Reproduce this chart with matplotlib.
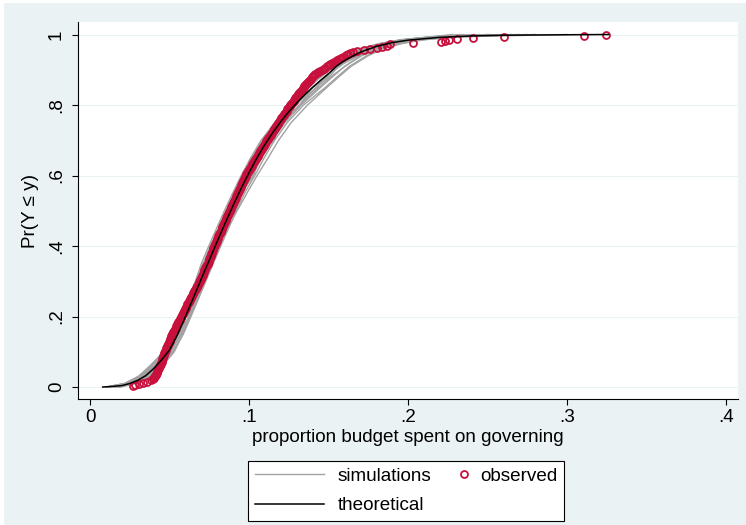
import numpy as np
import matplotlib
matplotlib.use("Agg")
from matplotlib import pyplot as plt
from matplotlib.patches import Rectangle
from matplotlib.legend_handler import HandlerLine2D

plt.rcParams['font.family'] = ['Liberation Sans', 'DejaVu Sans']

# theoretical cdf
theo_x = [0.008, 0.015, 0.020, 0.025, 0.030, 0.035, 0.040, 0.045, 0.050, 0.055, 0.060, 0.065,
          0.070, 0.075, 0.080, 0.085, 0.090, 0.095, 0.100, 0.105, 0.110, 0.115, 0.120, 0.125,
          0.130, 0.135, 0.140, 0.145, 0.150, 0.155, 0.160, 0.170, 0.180, 0.190, 0.200, 0.210,
          0.220, 0.240, 0.260, 0.290, 0.326]
theo_y = [0.000, 0.002, 0.004, 0.010, 0.019, 0.032, 0.052, 0.077, 0.105, 0.148, 0.200, 0.253,
          0.307, 0.360, 0.413, 0.465, 0.515, 0.563, 0.608, 0.650, 0.688, 0.722, 0.753, 0.781,
          0.806, 0.829, 0.850, 0.870, 0.889, 0.910, 0.926, 0.950, 0.966, 0.977, 0.984, 0.988,
          0.992, 0.996, 0.998, 0.999, 1.000]

# simulated cdfs: x at common probability levels
sim_y = [0.0, 0.01, 0.03, 0.06, 0.10, 0.15, 0.20, 0.25, 0.30, 0.35, 0.40, 0.45, 0.50, 0.55,
         0.60, 0.65, 0.70, 0.75, 0.80, 0.85, 0.88, 0.91, 0.94, 0.96, 0.975, 0.985, 0.993, 1.0]
sim_1 = [0.010, 0.022, 0.0305, 0.0376, 0.0465, 0.0527, 0.0575, 0.0622, 0.0668, 0.0715, 0.0762, 0.0811, 0.0860, 0.0912,
         0.0956, 0.1015, 0.1081, 0.1160, 0.1253, 0.134, 0.1415, 0.1493, 0.159, 0.1695, 0.1825, 0.195, 0.213, 0.235]
sim_2 = [0.018, 0.0275, 0.0360, 0.0451, 0.0525, 0.0587, 0.0635, 0.0682, 0.0728, 0.0775, 0.0822, 0.0871, 0.0920, 0.0972,
         0.1036, 0.1095, 0.1161, 0.1240, 0.1343, 0.148, 0.1555, 0.1633, 0.174, 0.1835, 0.1965, 0.209, 0.230, 0.280]
sim_3 = [0.010, 0.022, 0.0305, 0.0386, 0.046, 0.0532, 0.058, 0.0627, 0.0683, 0.073, 0.0787, 0.0836, 0.0895, 0.0947,
         0.1011, 0.107, 0.1146, 0.1225, 0.1328, 0.145, 0.1525, 0.1603, 0.170, 0.1805, 0.1935, 0.205, 0.224, 0.265]
sim_4 = [0.019, 0.029, 0.0375, 0.0456, 0.053, 0.0582, 0.063, 0.0667, 0.0713, 0.075, 0.0797, 0.0836, 0.0885, 0.0927,
         0.0981, 0.103, 0.1096, 0.1165, 0.1258, 0.136, 0.1435, 0.1503, 0.161, 0.1715, 0.1845, 0.196, 0.214, 0.250]
sim_5 = [0.016, 0.025, 0.0335, 0.0436, 0.049, 0.0572, 0.060, 0.0667, 0.0683, 0.075, 0.0777, 0.0856, 0.0885, 0.0957,
         0.0981, 0.107, 0.1106, 0.1215, 0.1278, 0.143, 0.1475, 0.1573, 0.165, 0.1785, 0.1885, 0.203, 0.219, 0.270]
sim_6 = [0.013, 0.023, 0.0345, 0.0406, 0.051, 0.0542, 0.063, 0.0647, 0.0713, 0.074, 0.0817, 0.0846, 0.0915, 0.0947,
         0.1031, 0.106, 0.1156, 0.1205, 0.1318, 0.140, 0.1495, 0.1533, 0.168, 0.1745, 0.1915, 0.200, 0.224, 0.300]
sim_7 = [0.015, 0.025, 0.0345, 0.0426, 0.050, 0.0572, 0.062, 0.0667, 0.0723, 0.077, 0.0817, 0.0866, 0.0925, 0.0987,
         0.1051, 0.112, 0.1186, 0.1265, 0.1368, 0.149, 0.1565, 0.1643, 0.175, 0.1845, 0.1965, 0.210, 0.230, 0.275]
sim_8 = [0.012, 0.022, 0.0315, 0.0406, 0.047, 0.0532, 0.058, 0.0617, 0.0663, 0.070, 0.0747, 0.0796, 0.0845, 0.0897,
         0.0951, 0.101, 0.1076, 0.1165, 0.1248, 0.136, 0.1435, 0.1503, 0.161, 0.1715, 0.1835, 0.196, 0.213, 0.228]
sim_9 = [0.017, 0.026, 0.0355, 0.0436, 0.052, 0.0582, 0.063, 0.0677, 0.0723, 0.076, 0.0817, 0.0856, 0.0905, 0.0957,
         0.1021, 0.107, 0.1146, 0.1215, 0.1318, 0.142, 0.1505, 0.1563, 0.169, 0.1785, 0.1905, 0.204, 0.223, 0.260]
sim_10 = [0.011, 0.023, 0.0325, 0.0406, 0.048, 0.0542, 0.059, 0.0637, 0.0683, 0.072, 0.0777, 0.0816, 0.0875, 0.0927,
          0.0981, 0.103, 0.1106, 0.1175, 0.1268, 0.138, 0.1445, 0.1523, 0.163, 0.1745, 0.1875, 0.199, 0.217, 0.245]
sim_11 = [0.011, 0.022, 0.0305, 0.0386, 0.046, 0.0522, 0.057, 0.0617, 0.0663, 0.071, 0.0757, 0.0806, 0.0855, 0.0907,
          0.0961, 0.103, 0.1096, 0.1175, 0.1268, 0.136, 0.1445, 0.1523, 0.163, 0.1735, 0.1855, 0.197, 0.215, 0.232]
sim_12 = [0.015, 0.023, 0.0315, 0.0396, 0.047, 0.0532, 0.059, 0.0627, 0.0683, 0.073, 0.0767, 0.0826, 0.0875, 0.0917,
          0.0971, 0.103, 0.1096, 0.1165, 0.1258, 0.137, 0.1455, 0.1533, 0.164, 0.1745, 0.1875, 0.200, 0.218, 0.242]
sim_13 = [0.013, 0.024, 0.0335, 0.0416, 0.049, 0.0562, 0.060, 0.0647, 0.0703, 0.074, 0.0797, 0.0836, 0.0895, 0.0937,
          0.1001, 0.105, 0.1126, 0.1195, 0.1298, 0.140, 0.1485, 0.1553, 0.167, 0.1765, 0.1895, 0.201, 0.222, 0.252]
sim_14 = [0.018, 0.027, 0.0355, 0.0436, 0.051, 0.0572, 0.062, 0.0657, 0.0713, 0.076, 0.0807, 0.0856, 0.0905, 0.0957,
          0.1021, 0.108, 0.1146, 0.1225, 0.1318, 0.144, 0.1515, 0.1603, 0.171, 0.1815, 0.1935, 0.206, 0.226, 0.262]
sims = [sim_1, sim_2, sim_3, sim_4, sim_5, sim_6, sim_7, sim_8, sim_9, sim_10, sim_11, sim_12, sim_13, sim_14]

# observed values (sorted), n = 320
observed = [
    0.0272, 0.0286, 0.0308, 0.0336, 0.0358, 0.0383, 0.0394, 0.0401, 0.0405, 0.0409, 0.0413, 0.0417, 0.0421, 0.0424, 0.0427, 0.0430,
    0.0433, 0.0436, 0.0439, 0.0442, 0.0445, 0.0448, 0.0450, 0.0453, 0.0455, 0.0457, 0.0459, 0.0461, 0.0463, 0.0465, 0.0467, 0.0469,
    0.0472, 0.0476, 0.0479, 0.0482, 0.0485, 0.0488, 0.0491, 0.0494, 0.0497, 0.0500, 0.0503, 0.0506, 0.0509, 0.0512, 0.0515, 0.0518,
    0.0521, 0.0525, 0.0528, 0.0532, 0.0535, 0.0539, 0.0542, 0.0546, 0.0549, 0.0553, 0.0556, 0.0560, 0.0564, 0.0567, 0.0571, 0.0575,
    0.0578, 0.0582, 0.0585, 0.0589, 0.0592, 0.0596, 0.0599, 0.0602, 0.0606, 0.0609, 0.0613, 0.0616, 0.0620, 0.0623, 0.0627, 0.0630,
    0.0634, 0.0638, 0.0641, 0.0645, 0.0649, 0.0653, 0.0656, 0.0660, 0.0664, 0.0668, 0.0672, 0.0675, 0.0679, 0.0683, 0.0687, 0.0690,
    0.0693, 0.0696, 0.0699, 0.0702, 0.0705, 0.0708, 0.0711, 0.0714, 0.0717, 0.0720, 0.0723, 0.0726, 0.0729, 0.0732, 0.0736, 0.0740,
    0.0743, 0.0746, 0.0748, 0.0751, 0.0753, 0.0756, 0.0758, 0.0761, 0.0763, 0.0766, 0.0768, 0.0771, 0.0773, 0.0776, 0.0778, 0.0781,
    0.0784, 0.0787, 0.0790, 0.0793, 0.0796, 0.0799, 0.0802, 0.0805, 0.0808, 0.0811, 0.0814, 0.0817, 0.0821, 0.0824, 0.0827, 0.0830,
    0.0833, 0.0836, 0.0839, 0.0842, 0.0845, 0.0848, 0.0851, 0.0854, 0.0857, 0.0860, 0.0863, 0.0866, 0.0869, 0.0873, 0.0876, 0.0880,
    0.0883, 0.0886, 0.0889, 0.0892, 0.0895, 0.0898, 0.0901, 0.0904, 0.0907, 0.0910, 0.0913, 0.0916, 0.0920, 0.0923, 0.0927, 0.0930,
    0.0933, 0.0936, 0.0939, 0.0942, 0.0945, 0.0948, 0.0951, 0.0954, 0.0957, 0.0960, 0.0963, 0.0966, 0.0970, 0.0973, 0.0977, 0.0980,
    0.0984, 0.0988, 0.0992, 0.0996, 0.1000, 0.1004, 0.1009, 0.1013, 0.1017, 0.1021, 0.1026, 0.1030, 0.1034, 0.1038, 0.1043, 0.1047,
    0.1051, 0.1055, 0.1059, 0.1063, 0.1068, 0.1072, 0.1076, 0.1080, 0.1084, 0.1088, 0.1093, 0.1097, 0.1101, 0.1105, 0.1109, 0.1113,
    0.1118, 0.1122, 0.1127, 0.1131, 0.1136, 0.1140, 0.1145, 0.1149, 0.1154, 0.1158, 0.1163, 0.1167, 0.1172, 0.1176, 0.1181, 0.1185,
    0.1190, 0.1194, 0.1199, 0.1203, 0.1208, 0.1213, 0.1217, 0.1222, 0.1227, 0.1231, 0.1236, 0.1241, 0.1245, 0.1250, 0.1255, 0.1260,
    0.1265, 0.1270, 0.1275, 0.1280, 0.1285, 0.1290, 0.1295, 0.1300, 0.1305, 0.1310, 0.1316, 0.1321, 0.1327, 0.1332, 0.1338, 0.1343,
    0.1348, 0.1353, 0.1358, 0.1363, 0.1369, 0.1375, 0.1381, 0.1388, 0.1395, 0.1403, 0.1410, 0.1418, 0.1426, 0.1435, 0.1445, 0.1460,
    0.1470, 0.1480, 0.1490, 0.1500, 0.1512, 0.1523, 0.1534, 0.1545, 0.1556, 0.1568, 0.1580, 0.1593, 0.1607, 0.1621, 0.1637, 0.1655,
    0.1680, 0.1720, 0.1760, 0.1805, 0.1835, 0.1866, 0.1887,
    0.2033, 0.2206, 0.2233, 0.2260, 0.2310, 0.2411, 0.2606, 0.3109, 0.3245]

x_ticks = [0, 0.1, 0.2, 0.3, 0.4]
x_labels = ['0', '.1', '.2', '.3', '.4']
y_ticks = [0, 0.2, 0.4, 0.6, 0.8, 1.0]
y_labels = ['0', '.2', '.4', '.6', '.8', '1']

bg = '#eaf2f3'
red = '#c8103c'
grey = '#a2a2a2'
fs = 13.6


class RightMarker(HandlerLine2D):
    # put the single legend marker at the right end of its key, close to the text
    def get_xdata(self, legend, xdescent, ydescent, width, height, fontsize):
        xdata, xm = super().get_xdata(legend, xdescent, ydescent, width, height, fontsize)
        end = width - xdescent
        return np.array([end - 0.3 * fontsize, end]), xm


# empirical cdf of the observed values
obs_x = np.sort(np.array(observed))
obs_y = np.arange(1, len(obs_x) + 1) / len(obs_x)

fig = plt.figure(figsize=(7.46, 5.25), dpi=100)
fig.patch.set_facecolor('white')
fig.patches.append(Rectangle((4 / 746, 0), 1, 1 - 3 / 525, transform=fig.transFigure,
                             facecolor=bg, edgecolor='none', zorder=-10))

ax = fig.add_axes([78 / 746, 1 - 399 / 525, 660 / 746, 377 / 525])
ax.set_facecolor('white')

for s in sims:
    h_sim, = ax.plot(s, sim_y, color=grey, lw=1.0, zorder=2)
h_obs, = ax.plot(obs_x, obs_y, linestyle='none', marker='o', ms=5, mfc='none',
                 mec=red, mew=1.3, zorder=3)
h_theo, = ax.plot(theo_x, theo_y, color='black', lw=1.1, zorder=4)

ax.set_xlim(-0.00755, 0.4075)
ax.set_ylim(-0.034, 1.0355)
ax.set_xticks(x_ticks, x_labels, fontsize=fs)
ax.set_yticks(y_ticks, y_labels, fontsize=fs, rotation=90, va='center')
ax.tick_params(direction='out', length=4.5, width=0.8, color='black')
ax.tick_params(axis='x', pad=3)
ax.tick_params(axis='y', pad=5)
ax.grid(axis='y', color=bg, lw=0.8)
ax.set_axisbelow(True)
for side in ['top', 'right']:
    ax.spines[side].set_visible(False)
for side in ['left', 'bottom']:
    ax.spines[side].set_linewidth(0.8)

ax.set_xlabel('proportion budget spent on governing', fontsize=fs, labelpad=2)
ax.set_ylabel('Pr(Y \u2264 y)', fontsize=fs, labelpad=6)

leg = fig.legend(handles=[h_sim, h_theo, h_obs], labels=['simulations', 'theoretical', 'observed'],
                 ncol=2, loc='upper center', bbox_to_anchor=(406 / 746, 1 - 461 / 525),
                 borderaxespad=0, frameon=True, fancybox=False, edgecolor='black', framealpha=1,
                 fontsize=fs, handlelength=3.7, handletextpad=0.69, columnspacing=-1.8,
                 borderpad=0.35, labelspacing=0.64,
                 handler_map={h_obs: RightMarker(numpoints=1)})
leg.get_frame().set_linewidth(0.8)

fig.savefig('out.png', dpi=100, facecolor=fig.get_facecolor())
